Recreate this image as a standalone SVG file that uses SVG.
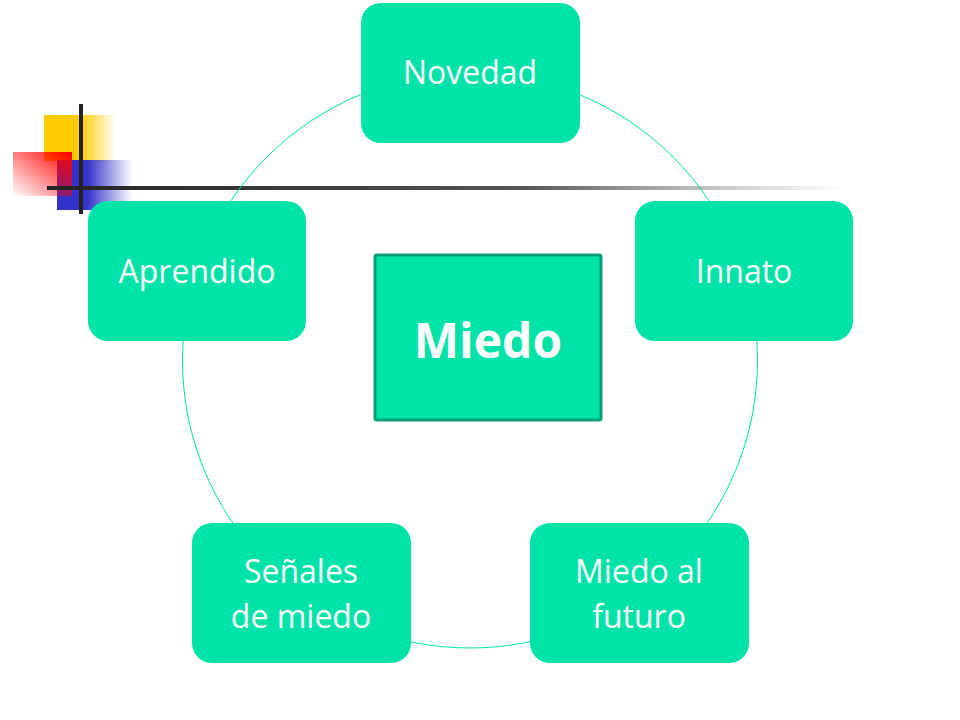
<svg xmlns="http://www.w3.org/2000/svg" width="960" height="720" viewBox="0 0 960 720">
<defs>
<linearGradient id="gy" x1="0" x2="1" y1="0" y2="0"><stop offset="0.5" stop-color="#FFCC00"/><stop offset="1" stop-color="#FFCC00" stop-opacity="0"/></linearGradient>
<linearGradient id="gb" x1="0" x2="1" y1="0" y2="0"><stop offset="0.4" stop-color="#3333CC"/><stop offset="1" stop-color="#3333CC" stop-opacity="0"/></linearGradient>
<linearGradient id="gr" x1="1" x2="0" y1="0" y2="1"><stop offset="0" stop-color="#FF0000"/><stop offset="1" stop-color="#FF0000" stop-opacity="0"/></linearGradient>
<linearGradient id="gl" x1="0" x2="1" y1="0" y2="0"><stop offset="0" stop-color="#222"/><stop offset="0.6" stop-color="#555"/><stop offset="1" stop-color="#888" stop-opacity="0"/></linearGradient>
<style>
.n{fill:#00E3A8}
.t{font-family:"Open Sans","DejaVu Sans",sans-serif;font-size:32px;fill:#fff;text-anchor:middle}
</style>
</defs>
<rect width="960" height="720" fill="#fff"/>
<g id="decor">
<rect x="44" y="115" width="72" height="46" fill="url(#gy)"/>
<rect x="57" y="160" width="75" height="50" fill="url(#gb)"/>
<rect x="13" y="152" width="59" height="44" fill="url(#gr)"/>
<rect x="47" y="186" width="800" height="4" fill="url(#gl)"/>
<rect x="79" y="104" width="4" height="110" fill="#222"/>
</g>
<g id="connectors">
<circle cx="470" cy="360.5" r="287.5" fill="none" stroke="#00E3A8" stroke-width="1"/>
</g>
<g id="novedad"><rect class="n" x="361" y="3" width="219" height="140" rx="20"/><text class="t" x="470" y="84">Novedad</text></g>
<g id="innato"><rect class="n" x="635" y="201" width="218" height="140" rx="20"/><text class="t" x="744" y="283">Innato</text></g>
<g id="aprendido"><rect class="n" x="88" y="201" width="218" height="140" rx="20"/><text class="t" x="197" y="283">Aprendido</text></g>
<g id="senales"><rect class="n" x="192" y="523" width="219" height="140" rx="20"/><text class="t" x="301" y="583">Señales</text><text class="t" x="301" y="628">de miedo</text></g>
<g id="futuro"><rect class="n" x="530" y="523" width="219" height="140" rx="20"/><text class="t" x="639" y="583">Miedo al</text><text class="t" x="639" y="628">futuro</text></g>
<g id="miedo"><rect x="375" y="255" width="226" height="165" fill="#00E3A8" stroke="#0A9E78" stroke-width="3" rx="2"/><text x="488" y="358" font-family="Open Sans,DejaVu Sans,sans-serif" font-size="48" font-weight="bold" fill="#fff" text-anchor="middle">Miedo</text></g>
</svg>
